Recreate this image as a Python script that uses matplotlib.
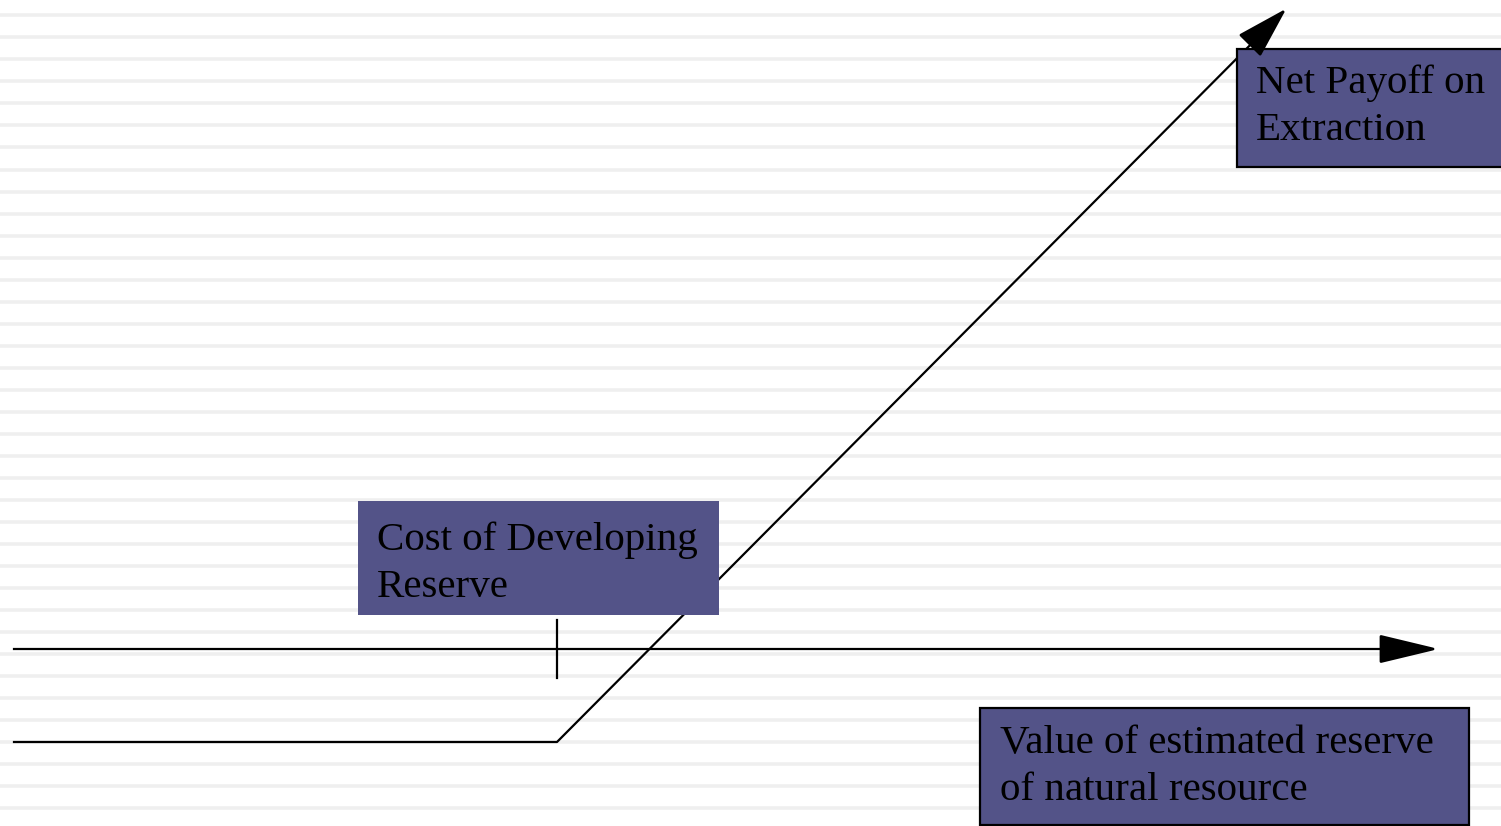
import numpy as np
import matplotlib.pyplot as plt
from matplotlib.patches import Rectangle, FancyArrow

# ==========================================
# 1. DATA (diagram units: 1 unit = 1 pixel, payoff 0 at the value axis)
# ==========================================
value_axis_x = [14, 1433]          # horizontal value axis start / arrow tip
strike = 557                       # cost of developing reserve
payoff_x = [14, 557, 1283]         # value of estimated reserve
payoff_y = [-93, -93, 637]         # net payoff on extraction
tick_y = [-29, 29]

labels = {
    'net': ["Net Payoff on", "Extraction"],
    'cost': ["Cost of Developing", "Reserve"],
    'value': ["Value of estimated reserve", "of natural resource"],
}

BOX_COLOR = '#535388'
W, H = 1501, 826
AXIS_PX = 649  # pixel row of the value axis

plt.rcParams['font.family'] = ['Liberation Serif', 'DejaVu Serif']

fig = plt.figure(figsize=(W / 100, H / 100), dpi=100)
ax = fig.add_axes([0, 0, 1, 1])
ax.set_xlim(0, W)
ax.set_ylim(AXIS_PX - H, AXIS_PX)
ax.axis('off')


def py(px):
    # pixel row -> diagram y
    return AXIS_PX - px


# ==========================================
# 2. STRIPED BACKGROUND
# ==========================================
for row in np.arange(15.3, H, 22.03):
    ax.axhline(py(row), color='#efefef', lw=2.6, zorder=0)

# ==========================================
# 3. AXIS, STRIKE TICK, PAYOFF LINE
# ==========================================
ax.plot([value_axis_x[0], value_axis_x[1] - 40], [0, 0], color='black', lw=1.6, zorder=1)
ax.add_patch(FancyArrow(value_axis_x[1] - 52, 0, 52, 0, width=0, head_width=25,
                        head_length=52, length_includes_head=True,
                        fc='black', ec='black', lw=2, joinstyle='round', zorder=3))

ax.plot([strike, strike], tick_y, color='black', lw=1.6, zorder=1)

ax.plot(payoff_x, payoff_y, color='black', lw=1.6, zorder=1)
dx = payoff_x[2] - payoff_x[1]
dy = payoff_y[2] - payoff_y[1]
L = np.hypot(dx, dy)
hl = 46
ax.add_patch(FancyArrow(payoff_x[2] - dx / L * hl, payoff_y[2] - dy / L * hl,
                        dx / L * hl, dy / L * hl, width=0, head_width=27,
                        head_length=hl, length_includes_head=True,
                        fc='black', ec='black', lw=2, joinstyle='round', zorder=3))

# ==========================================
# 4. LABEL BOXES
# ==========================================
# (left px, top px, right px, bottom px, border)
boxes = {
    'net': (1237, 49, 1506, 167, True),
    'cost': (358, 501, 719, 615, False),
    'value': (980, 708, 1469, 825, True),
}
# (text left px, first baseline px)
text_pos = {
    'net': (1256, 93),
    'cost': (377, 550),
    'value': (1000, 753),
}

for key, (x0, y0, x1, y1, border) in boxes.items():
    ax.add_patch(Rectangle((x0, py(y1)), x1 - x0, y1 - y0, facecolor=BOX_COLOR,
                           edgecolor='black' if border else 'none', lw=1.6, zorder=2))
    tx, ty = text_pos[key]
    for i, line in enumerate(labels[key]):
        ax.text(tx, py(ty + 47 * i), line, fontsize=29.5, color='black',
                ha='left', va='baseline', zorder=4)

fig.savefig('out.png', dpi=100, facecolor='white')
